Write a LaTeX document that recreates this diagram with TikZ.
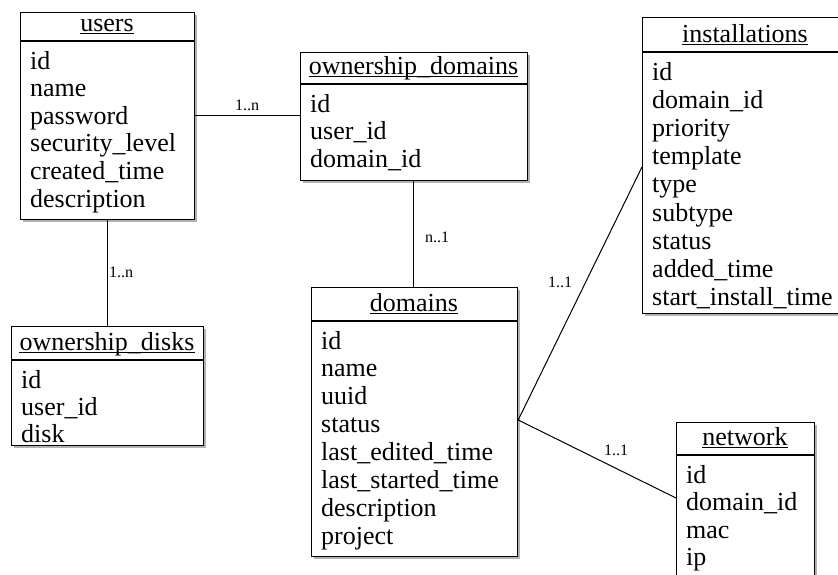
\documentclass[tikz,border=0pt]{standalone}
\usepackage{fontspec}
\setmainfont{Liberation Serif}
\newcommand\ertable[9]{%
  \fill[shadowbox] (#2+3,#3+3) rectangle ++(#4,#5);
  \node[tbox, minimum width=#4pt, minimum height=#5pt] (#1) at (#2,#3) {};
  \draw[line width=1.2pt] (#2,#3+#6) -- ++(#4,0);
  \node[ttl] (#1-t) at (#2+#4/2,#3+#6-10) {#7};
  \draw[line width=0.9pt] ([yshift=-2.2pt]#1-t.base west) -- ([yshift=-2.2pt]#1-t.base east);
  \foreach \r [count=\i from 0] in {#8}
    \node[rowtext] (#1-\i) at (#2+10,#3+#6+28+\i*#9) {\r};
}
\begin{document}
\begin{tikzpicture}[x=1pt,y=-1pt,
  tbox/.style={draw=black, line width=1.2pt, fill=white, inner sep=0pt, anchor=north west},
  shadowbox/.style={fill=black!30, draw=none},
  ttl/.style={font=\fontsize{26}{28}\selectfont, anchor=base, inner sep=0pt},
  rowtext/.style={font=\fontsize{26}{28}\selectfont, anchor=base west, inner sep=0pt},
  conn/.style={draw=black, line width=1pt},
  card/.style={font=\fontsize{16}{18}\selectfont, inner sep=0pt}]
\clip (0,0) rectangle (838,574);
\fill[white] (0,0) rectangle (838,574);

\ertable{users}{20}{12}{174}{207}{29}{users}{id,name,password,security\_level,created\_time,description}{27.6}
\ertable{odom}{300}{52}{227}{128}{32}{ownership\_domains}{id,user\_id,domain\_id}{27.6}
\ertable{inst}{642}{17}{206}{296}{35}{installations}{id,domain\_id,priority,template,type,subtype,status,added\_time,start\_install\_time}{28.2}
\ertable{odisk}{11}{326}{192}{119}{34}{ownership\_disks}{id,user\_id,disk}{27.4}
\ertable{dom}{311}{287}{206}{269}{34}{domains}{id,name,uuid,status,last\_edited\_time,last\_started\_time,description,project}{27.9}
\ertable{net}{676}{422}{138}{200}{33}{network}{id,domain\_id,mac,ip}{27.6}

\coordinate (dj) at (dom.east |- 0,420);
\draw[conn] (users.east |- 0,115) -- (odom.west |- 0,115);
\draw[conn] (odom.south -| 413,0) -- (dom.north -| 413,0);
\draw[conn] (users.south -| 107,0) -- (odisk.north -| 107,0);
\draw[conn] (dj) -- (inst.west |- 0,167);
\draw[conn] (dj) -- (net.west |- 0,498);

\node[card] (l1) at (247,105) {1..n};
\node[card] (l2) at (437,237) {n..1};
\node[card] (l3) at (121,272) {1..n};
\node[card] (l4) at (560,282) {1..1};
\node[card] (l5) at (616,450) {1..1};
\end{tikzpicture}
\end{document}
